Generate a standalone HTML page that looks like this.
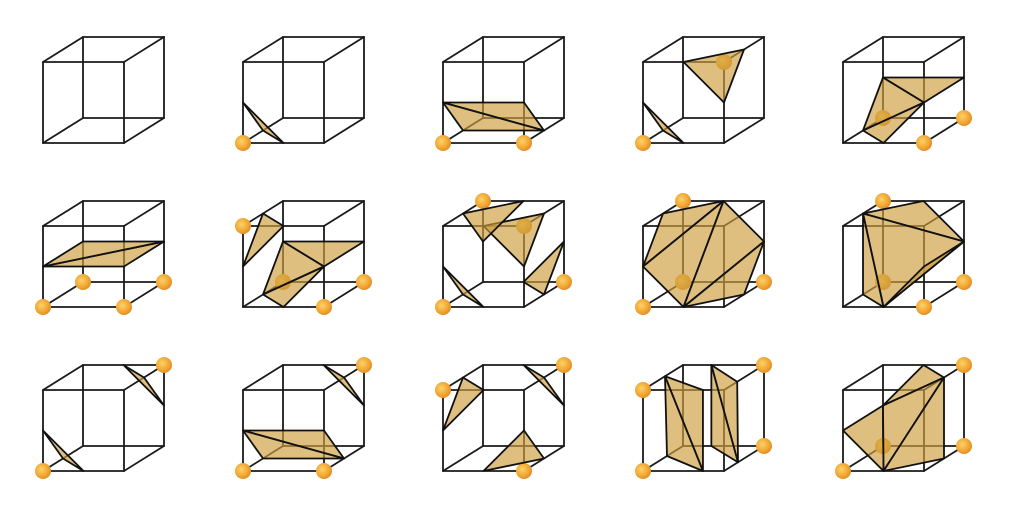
<!DOCTYPE html>
<html><head><meta charset="utf-8"><style>
html,body{margin:0;padding:0;background:#fff;}
svg{display:block;}
</style></head><body>
<svg id="fig" width="1034" height="516" viewBox="0 0 1034 516" xmlns="http://www.w3.org/2000/svg">
<defs>
<radialGradient id="ball" cx="0.4" cy="0.4" r="0.65">
<stop offset="0" stop-color="#fbd36a"/>
<stop offset="0.6" stop-color="#f2a935"/>
<stop offset="1" stop-color="#e08a22"/>
</radialGradient>
</defs>
</svg>
<script>
// corner coordinates: x right, y up, z back
const cubeCols = [0,1,2,3,4];
const cubeRows = [0,1,2];
const caseSpheres = [
  [],
  [[0,0,0]],
  [[0,0,0],[1,0,0]],
  [[0,0,0],[1,1,0]],
  [[1,0,0],[1,0,1],[0,0,1]],
  [[0,0,0],[1,0,0],[0,0,1],[1,0,1]],
  [[0,1,0],[1,0,0],[1,0,1],[0,0,1]],
  [[0,1,1],[1,1,0],[1,0,1],[0,0,0]],
  [[0,1,1],[1,0,1],[0,0,0],[0,0,1]],
  [[0,1,1],[1,0,1],[1,0,0],[0,0,1]],
  [[0,0,0],[1,1,1]],
  [[0,0,0],[1,0,0],[1,1,1]],
  [[0,1,0],[1,1,1],[1,0,0]],
  [[0,1,0],[1,1,1],[0,0,0],[1,0,1]],
  [[1,1,1],[1,0,1],[0,0,0],[0,0,1]]
];
const T1 = [[0,.5,0],[.5,0,0],[0,0,.5]];
const TBTR = [[.5,1,1],[1,.5,1],[1,1,.5]];
const PENT = [
  [[0,.5,1],[1,.5,1],[1,.5,0]],
  [[0,.5,1],[1,.5,0],[0,0,.5]],
  [[0,0,.5],[1,.5,0],[.5,0,0]]
];
const QUAD2 = [[[0,.5,0],[1,.5,0],[1,0,.5]],[[0,.5,0],[1,0,.5],[0,0,.5]]];
const caseTris = [
  [],
  [T1],
  QUAD2,
  [T1, [[.5,1,0],[1,1,.5],[1,.5,0]]],
  PENT,
  [[[0,.5,0],[1,.5,0],[1,.5,1]],[[0,.5,0],[1,.5,1],[0,.5,1]]],
  PENT.concat([[[0,.5,0],[.5,1,0],[0,1,.5]]]),
  [T1, [[.5,1,0],[1,1,.5],[1,.5,0]], [[.5,1,1],[0,.5,1],[0,1,.5]], [[.5,0,1],[1,.5,1],[1,0,.5]]],
  [[[0,1,.5],[.5,1,1],[0,.5,0]],[[0,.5,0],[.5,1,1],[.5,0,0]],[[.5,1,1],[1,.5,1],[.5,0,0]],[[.5,0,0],[1,.5,1],[1,0,.5]]],
  [[[0,1,.5],[.5,1,1],[1,.5,1]],[[0,1,.5],[1,.5,1],[.5,0,0]],[[0,1,.5],[.5,0,0],[0,0,.5]],[[.5,0,0],[1,.5,1],[1,.5,0]]],
  [T1, TBTR],
  QUAD2.concat([TBTR]),
  [[[0,.5,0],[.5,1,0],[0,1,.5]], TBTR, [[.5,0,0],[1,.5,0],[1,0,.5]]],
  [[[0,1,.55],[.74,1,0],[.74,0,0]],[[0,1,.55],[.74,0,0],[0,0,.6]],[[.35,1,1],[1,1,.33],[1,0,.35]],[[.35,1,1],[1,0,.35],[.35,0,1]]],
  [[[0,.5,0],[0,.5,1],[.5,0,0]],[[0,.5,1],[.5,1,1],[1,1,.5]],[[0,.5,1],[1,1,.5],[.5,0,0]],[[.5,0,0],[1,1,.5],[1,0,.5]]]
];
const corners = [[0,0,0],[1,0,0],[1,1,0],[0,1,0],[0,0,1],[1,0,1],[1,1,1],[0,1,1]];
const edges = [[0,1],[1,2],[2,3],[3,0],[4,5],[5,6],[6,7],[7,4],[0,4],[1,5],[2,6],[3,7]];

const NS='http://www.w3.org/2000/svg';
const svg=document.getElementById('fig');
const S=81, DX=40, DY=25;
function P(ox,oy,p){return [ox+S*p[0]+DX*p[2], oy+S*(1-p[1])-DY*p[2]];}
function mk(tag,attrs,parent){const e=document.createElementNS(NS,tag);for(const k in attrs)e.setAttribute(k,attrs[k]);parent.appendChild(e);return e;}

caseTris.forEach((tris,i)=>{
  const col=i%5,row=Math.floor(i/5);
  const ox=43+200*cubeCols[col], oy=62+164*cubeRows[row];
  const g=mk('g',{},svg);
  
  
  edges.forEach(e=>{
    const a=P(ox,oy,corners[e[0]]),b=P(ox,oy,corners[e[1]]);
    const l=mk('line',{x1:a[0],y1:a[1],x2:b[0],y2:b[1],stroke:'#1a1a1a','stroke-width':1.8,'stroke-linecap':'round'},g);
    
    
  });
  caseSpheres[i].forEach(c=>{
    const p=P(ox,oy,c);
    const s=mk('circle',{cx:p[0],cy:p[1],r:8,fill:'url(#ball)'},g);
    
    
  });
  tris.forEach(t=>{
    const pts=t.map(q=>P(ox,oy,q).join(',')).join(' ');
    const pl=mk('polygon',{points:pts,fill:'rgba(205,158,60,0.66)',stroke:'#111','stroke-width':1.8,'stroke-linejoin':'round'},g);
    
    
  });
});
</script>
</body></html>
